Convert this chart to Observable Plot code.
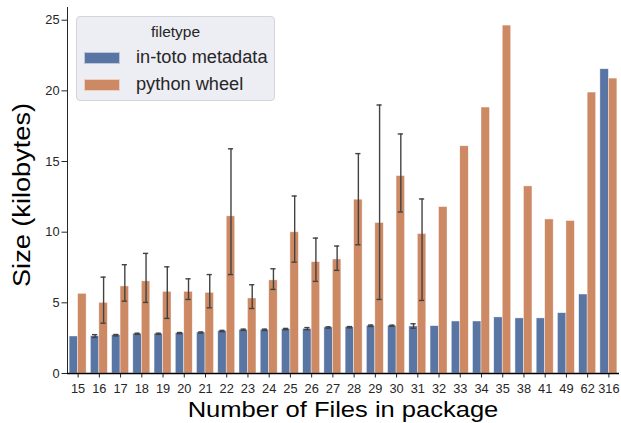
<!DOCTYPE html>
<html>
<head>
<meta charset="utf-8">
<script src="https://cdn.jsdelivr.net/npm/d3@7"></script>
<script src="https://cdn.jsdelivr.net/npm/@observablehq/plot@0.6"></script>
<style>
  body { margin: 0; background: #fff; font-family: "Liberation Sans", Arial, sans-serif; }
  #wrap { position: relative; width: 621px; height: 423px; }
  .lbl { position: absolute; color: #000; white-space: nowrap; }
  #legend { position: absolute; left: 76px; top: 16px; width: 199px; height: 85px;
    background: rgba(234,234,242,0.85); border: 1px solid #d4d4dc; border-radius: 4px; box-sizing: border-box; }
  #legend .t { position: absolute; left: 0; width: 100%; top: 6px; text-align: center; font-size: 15.5px; line-height: 18px; color: #262626; }
  #legend .sw { position: absolute; left: 7px; width: 36px; height: 12px; border: 1px solid rgba(255,255,255,0.6); box-sizing: border-box; }
  #legend .n { position: absolute; left: 59px; font-size: 17.5px; line-height: 20px; color: #262626; transform-origin: left center; transform: scaleX(1.04); }
</style>
</head>
<body>
<div id="wrap"></div>
<script>
const categories = ["15","16","17","18","19","20","21","22","23","24","25","26","27","28","29","30","31","32","33","34","35","38","41","49","62","316"];
const filetypes = ["in-toto metadata", "python wheel"];
const intoto   = [2.62,2.64,2.71,2.81,2.81,2.86,2.90,3.00,3.09,3.09,3.14,3.16,3.26,3.28,3.38,3.38,3.33,3.35,3.68,3.68,3.97,3.90,3.90,4.27,5.59,21.53];
const intotoLo = [null,2.55,2.66,2.77,2.77,2.82,2.86,2.96,3.05,3.05,3.10,3.10,3.21,3.23,3.33,3.34,3.20,null,null,null,null,null,null,null,null,null];
const intotoHi = [null,2.75,2.76,2.85,2.85,2.90,2.94,3.05,3.14,3.14,3.19,3.25,3.30,3.32,3.43,3.42,3.52,null,null,null,null,null,null,null,null,null];
const wheel    = [5.64,5.00,6.16,6.52,5.78,5.78,5.71,11.12,5.31,6.59,9.99,7.88,8.07,12.30,10.65,13.97,9.87,11.78,16.08,18.82,24.62,13.24,10.90,10.79,19.88,20.87];
const wheelLo  = [null,3.56,5.12,5.03,3.90,5.24,4.65,7.00,4.60,5.95,7.88,6.52,7.30,9.11,5.24,11.43,5.17,null,null,null,null,null,null,null,null,null];
const wheelHi  = [null,6.82,7.70,8.50,7.55,6.70,7.00,15.90,6.28,7.41,12.56,9.58,9.02,15.56,19.00,16.95,12.35,null,null,null,null,null,null,null,null,null];
const yTicks = [0, 5, 10, 15, 20, 25];

const colors = ["#5975a4", "#cc8963"];

const rows = [];
categories.forEach((c, i) => {
  rows.push({cat: c, type: filetypes[0], v: intoto[i], lo: intotoLo[i], hi: intotoHi[i]});
  rows.push({cat: c, type: filetypes[1], v: wheel[i], lo: wheelLo[i], hi: wheelHi[i]});
});
const blue = rows.filter(d => d.type === filetypes[0]);
const orange = rows.filter(d => d.type === filetypes[1]);
const blueErr = blue.filter(d => d.lo != null);
const orangeErr = orange.filter(d => d.lo != null);

const W = 621, H = 423, ML = 67, MR = 2, MT = 7, MB = 50;
const step = (W - ML - MR) / categories.length;
const bw = step * 0.8;
const half = bw / 2;
const cap = 2.6;
const errColor = "#424242";

const plot = Plot.plot({
  width: W, height: H,
  marginLeft: ML, marginRight: MR, marginTop: MT, marginBottom: MB,
  style: {fontFamily: "Liberation Sans, Arial, sans-serif", fontSize: "12.8px", color: "#262626", background: "transparent"},
  x: {domain: categories, paddingInner: 0.2, paddingOuter: 0.1, round: false, label: null, tickSize: 4.5, tickPadding: 6},
  y: {domain: [0, 25.9], ticks: yTicks, label: null, tickSize: 5.5, tickPadding: 2.5, line: true},
  marks: [
    Plot.barY(blue, {x: "cat", y: "v", fill: colors[0], insetRight: half, insetLeft: 0, stroke: "white", strokeWidth: 0.6, strokeOpacity: 0.7}),
    Plot.barY(orange, {x: "cat", y: "v", fill: colors[1], insetLeft: half, insetRight: 0, stroke: "white", strokeWidth: 0.6, strokeOpacity: 0.7}),
    Plot.ruleX(blueErr, {x: "cat", y1: "lo", y2: "hi", dx: -bw/4, stroke: errColor, strokeWidth: 1.4}),
    Plot.ruleX(orangeErr, {x: "cat", y1: "lo", y2: "hi", dx: bw/4, stroke: errColor, strokeWidth: 1.4}),
    Plot.tickY(blueErr, {x: "cat", y: "lo", insetLeft: bw/4 - cap, insetRight: 3*bw/4 - cap, stroke: errColor, strokeWidth: 1.4}),
    Plot.tickY(blueErr, {x: "cat", y: "hi", insetLeft: bw/4 - cap, insetRight: 3*bw/4 - cap, stroke: errColor, strokeWidth: 1.4}),
    Plot.tickY(orangeErr, {x: "cat", y: "lo", insetLeft: 3*bw/4 - cap, insetRight: bw/4 - cap, stroke: errColor, strokeWidth: 1.4}),
    Plot.tickY(orangeErr, {x: "cat", y: "hi", insetLeft: 3*bw/4 - cap, insetRight: bw/4 - cap, stroke: errColor, strokeWidth: 1.4}),
    Plot.ruleY([0], {stroke: "#000", strokeWidth: 1.6}),
    Plot.ruleX([0], {frameAnchor: "left", stroke: "#000", strokeWidth: 1.2})
  ]
});

const wrap = document.getElementById("wrap");
wrap.appendChild(plot);

// axis labels
const xl = document.createElement("div");
xl.className = "lbl";
xl.textContent = "Number of Files in package";
xl.style.cssText = "left:342.5px;top:397px;font-size:22px;line-height:26px;transform:translateX(-50%) scaleX(1.16);";
wrap.appendChild(xl);

const yl = document.createElement("div");
yl.className = "lbl";
yl.textContent = "Size (kilobytes)";
yl.style.cssText = "left:22px;top:195px;font-size:23px;line-height:26px;transform:translate(-50%,-50%) rotate(-90deg) scaleX(1.18);";
wrap.appendChild(yl);

// legend
const lg = document.createElement("div");
lg.id = "legend";
const t = document.createElement("div"); t.className = "t"; t.textContent = "filetype"; lg.appendChild(t);
filetypes.forEach((ft, i) => {
  const sw = document.createElement("div"); sw.className = "sw";
  sw.style.top = (35 + i * 27) + "px"; sw.style.background = colors[i]; lg.appendChild(sw);
  const n = document.createElement("div"); n.className = "n"; n.textContent = ft;
  n.style.top = (30 + i * 27) + "px"; lg.appendChild(n);
});
wrap.appendChild(lg);
</script>
</body>
</html>
